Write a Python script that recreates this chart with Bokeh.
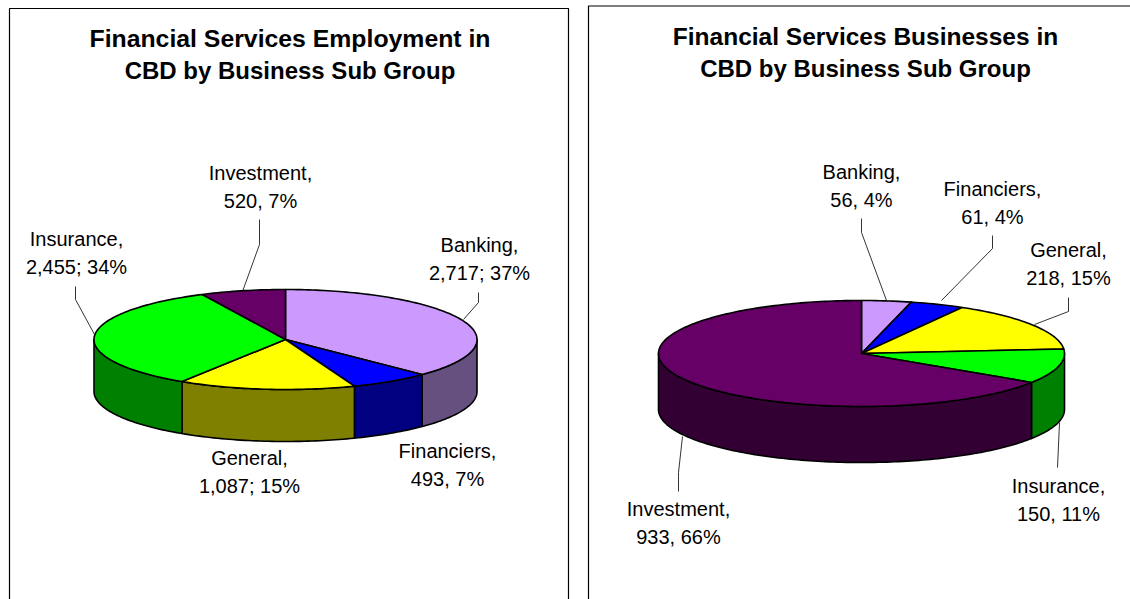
import numpy as np
from bokeh.plotting import figure
from bokeh.models import Range1d
from bokeh.core.properties import value
from bokeh.embed import file_html
from bokeh.resources import INLINE

# ---- data
categories = ["Banking", "Financiers", "General", "Insurance", "Investment"]
employment = [2717, 493, 1087, 2455, 520]
businesses = [56, 61, 218, 150, 933]
employment_pct = [37, 7, 15, 34, 7]
businesses_pct = [4, 4, 15, 11, 66]
title_left = ["Financial Services Employment in", "CBD by Business Sub Group"]
title_right = ["Financial Services Businesses in", "CBD by Business Sub Group"]

# ---- styles
top_colors = ["#CC99FF", "#0000FF", "#FFFF00", "#00FF00", "#660066"]
side_colors = ["#665080", "#000080", "#808000", "#008000", "#330033"]
FONT = "Liberation Sans"

# ---- layout, page pixels
PIE_L = dict(cx=285, cy=339, rx=191.5, ry=50, depth=52)
PIE_R = dict(cx=861, cy=353, rx=203, ry=53, depth=56)
LABELS_L = {"Banking": (479, 244), "Financiers": (447, 450), "General": (249, 457),
            "Insurance": (76, 238), "Investment": (260, 172)}
LABELS_R = {"Banking": (861, 171), "Financiers": (992, 188), "General": (1068, 249),
            "Insurance": (1058, 485), "Investment": (678, 508)}
LEADERS_L = [[(259, 219), (259, 244), (242, 291)],
             [(75, 286), (75, 299), (94, 334)],
             [(478, 292), (478, 302), (463, 319)]]
LEADERS_R = [[(861, 218), (861, 232), (886, 300)],
             [(992, 235), (992, 248), (941, 300)],
             [(1068, 297), (1068, 311), (1034, 324)],
             [(1059, 422), (1057, 467)],
             [(682, 436), (678, 472), (678, 491)]]
LINE_GAP = 28.5

p = figure(width=1130, height=599, output_backend="svg", toolbar_location=None,
           x_range=Range1d(0, 1130), y_range=Range1d(599, 0),
           min_border=0, outline_line_color=None,
           x_axis_type=None, y_axis_type=None)
p.grid.visible = False


def arc(pie, a0, a1, dy=0.0):
    n = max(2, int(abs(a1 - a0) / 0.02))
    t = np.linspace(a0, a1, n)
    return pie["cx"] + pie["rx"] * np.sin(t), pie["cy"] - pie["ry"] * np.cos(t) + dy


def draw_pie(vals, pie):
    v = np.asarray(vals, float)
    edges = np.concatenate([[0], np.cumsum(v) / v.sum()]) * 2 * np.pi
    # side walls: the front half of the disc only
    for i in range(len(v)):
        a0, a1 = max(edges[i], np.pi / 2), min(edges[i + 1], 3 * np.pi / 2)
        if a1 <= a0:
            continue
        x, y = arc(pie, a0, a1)
        xb, yb = arc(pie, a1, a0, pie["depth"])
        p.patch(list(x) + list(xb), list(y) + list(yb), fill_color=side_colors[i],
                line_color="black", line_width=1.6, line_join="round")
    # top faces
    for i in range(len(v)):
        x, y = arc(pie, edges[i], edges[i + 1])
        p.patch([pie["cx"]] + list(x), [pie["cy"]] + list(y), fill_color=top_colors[i],
                line_color="black", line_width=1.6, line_join="round")


def draw_labels(vals, pcts, where):
    xs, ys, txt = [], [], []
    for name, val, pct in zip(categories, vals, pcts):
        sep = ";" if val >= 1000 else ","
        x, y = where[name]
        xs += [x, x]
        ys += [y, y + LINE_GAP]
        txt += [name + ",", f"{val:,}{sep} {pct}%"]
    p.text(xs, ys, text=txt, text_font=value(FONT), text_font_size="20px",
           text_align="center", text_baseline="middle", text_color="#000000")


def draw_title(lines, cx, y0, sizes):
    for k, (line, size) in enumerate(zip(lines, sizes)):
        p.text([cx], [y0 + 32 * k], text=[line], text_font=value(FONT),
               text_font_size=size, text_font_style="bold",
               text_align="center", text_baseline="middle", text_color="#000000")


# frames
p.line([9, 9, 568, 568], [599, 8, 8, 599], line_color="black", line_width=1.2)
p.line([588, 588, 1130], [599, 5.5, 5.5], line_color="black", line_width=1.2)

for lead in LEADERS_L + LEADERS_R:
    p.line([c[0] for c in lead], [c[1] for c in lead], line_color="black", line_width=0.8)

draw_pie(employment, PIE_L)
draw_pie(businesses, PIE_R)
draw_labels(employment, employment_pct, LABELS_L)
draw_labels(businesses, businesses_pct, LABELS_R)
draw_title(title_left, 289.5, 38, ["24.8px", "24px"])
draw_title(title_right, 865, 36, ["24.5px", "24px"])

open("out.html", "w").write(file_html(p, INLINE))
